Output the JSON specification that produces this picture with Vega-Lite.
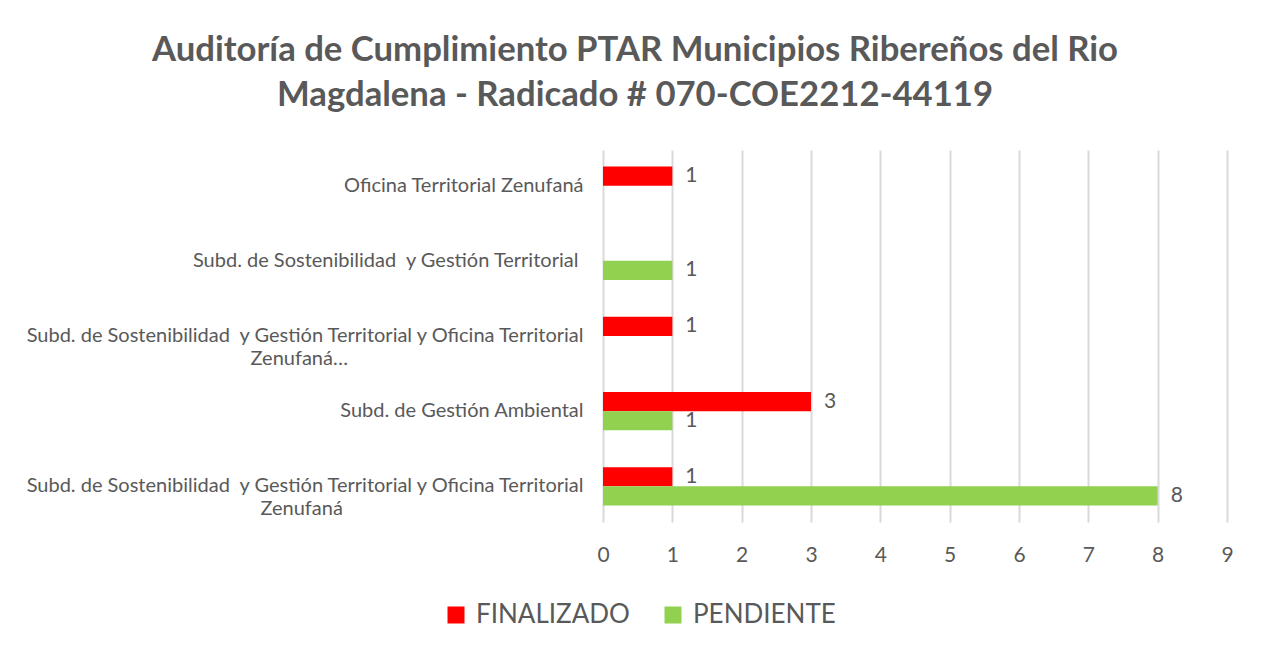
{
  "$schema": "https://vega.github.io/schema/vega-lite/v6.json",
  "autosize": {"type": "none"},
  "width": 624,
  "height": 372,
  "padding": {"left": 603, "top": 150, "right": 34, "bottom": 132},
  "background": "white",
  "config": {"view": {"stroke": null}, "font": "Lato"},
  "title": {
    "text": ["Auditoría de Cumplimiento PTAR Municipios Ribereños del Rio", "Magdalena - Radicado # 070-COE2212-44119"],
    "fontSize": 34.7,
    "fontWeight": "bold",
    "color": "#595959",
    "font": "Lato",
    "anchor": "middle",
    "dx": -280,
    "offset": 36,
    "lineHeight": 45
  },
  "data": {
    "values": [
      {"area": "Oficina Territorial Zenufaná", "estado": "FINALIZADO", "cantidad": 1},
      {"area": "Subd. de Sostenibilidad  y Gestión Territorial ", "estado": "PENDIENTE", "cantidad": 1},
      {"area": "Subd. de Sostenibilidad  y Gestión Territorial y Oficina Territorial Zenufaná…", "estado": "FINALIZADO", "cantidad": 1},
      {"area": "Subd. de Gestión Ambiental", "estado": "FINALIZADO", "cantidad": 3},
      {"area": "Subd. de Gestión Ambiental", "estado": "PENDIENTE", "cantidad": 1},
      {"area": "Subd. de Sostenibilidad  y Gestión Territorial y Oficina Territorial Zenufaná", "estado": "FINALIZADO", "cantidad": 1},
      {"area": "Subd. de Sostenibilidad  y Gestión Territorial y Oficina Territorial Zenufaná", "estado": "PENDIENTE", "cantidad": 8}
    ]
  },
  "encoding": {
    "y": {
      "field": "area",
      "type": "nominal",
      "sort": [
        "Oficina Territorial Zenufaná",
        "Subd. de Sostenibilidad  y Gestión Territorial ",
        "Subd. de Sostenibilidad  y Gestión Territorial y Oficina Territorial Zenufaná…",
        "Subd. de Gestión Ambiental",
        "Subd. de Sostenibilidad  y Gestión Territorial y Oficina Territorial Zenufaná"
      ],
      "scale": {"paddingInner": 0.49, "paddingOuter": 0.22},
      "axis": {
        "title": null,
        "domain": false,
        "ticks": false,
        "grid": false,
        "labelPadding": 20,
        "labelFontSize": 20,
        "labelColor": "#595959",
        "labelFont": "Lato",
        "labelLimit": 800,
        "labelLineHeight": 23,
        "labelExpr": "length(datum.label) > 60 ? [replace(substring(datum.label, 0, indexof(datum.label, ' Zenufan')), regexp(' ', 'g'), '\u00a0'), pad(substring(datum.label, indexof(datum.label, ' Zenufan') + 1), 55, '\u00a0') + '\u200b'] : replace(datum.label, regexp(' ', 'g'), '\u00a0') + '\u200b'"
      }
    },
    "yOffset": {
      "field": "estado",
      "type": "nominal",
      "scale": {"domain": ["FINALIZADO", "PENDIENTE"], "paddingInner": 0, "paddingOuter": 0}
    },
    "x": {
      "field": "cantidad",
      "type": "quantitative",
      "scale": {"domain": [0, 9], "nice": false},
      "axis": {
        "title": null,
        "domain": false,
        "ticks": false,
        "grid": true,
        "gridColor": "#D9D9D9",
        "gridWidth": 2,
        "values": [0, 1, 2, 3, 4, 5, 6, 7, 8, 9],
        "labelPadding": 22,
        "labelFontSize": 21,
        "labelColor": "#595959",
        "labelFont": "Lato",
        "labelFlush": false
      }
    }
  },
  "layer": [
    {
      "mark": {"type": "bar"},
      "encoding": {
        "color": {
          "field": "estado",
          "type": "nominal",
          "scale": {"domain": ["FINALIZADO", "PENDIENTE"], "range": ["#FF0000", "#92D050"]},
          "legend": {
            "title": null,
            "orient": "none",
            "legendX": -160,
            "legendY": 452,
            "direction": "horizontal",
            "symbolType": "square",
            "symbolSize": 289,
            "symbolStrokeWidth": 0,
            "symbolOpacity": 1,
            "labelFontSize": 26,
            "labelColor": "#595959",
            "labelFont": "Lato",
            "labelOffset": 7,
            "columnPadding": 30
          }
        }
      }
    },
    {
      "mark": {"type": "text", "align": "left", "baseline": "middle", "dx": 13, "fontSize": 21, "color": "#595959", "font": "Lato"},
      "encoding": {"text": {"field": "cantidad", "type": "quantitative"}}
    }
  ]
}
